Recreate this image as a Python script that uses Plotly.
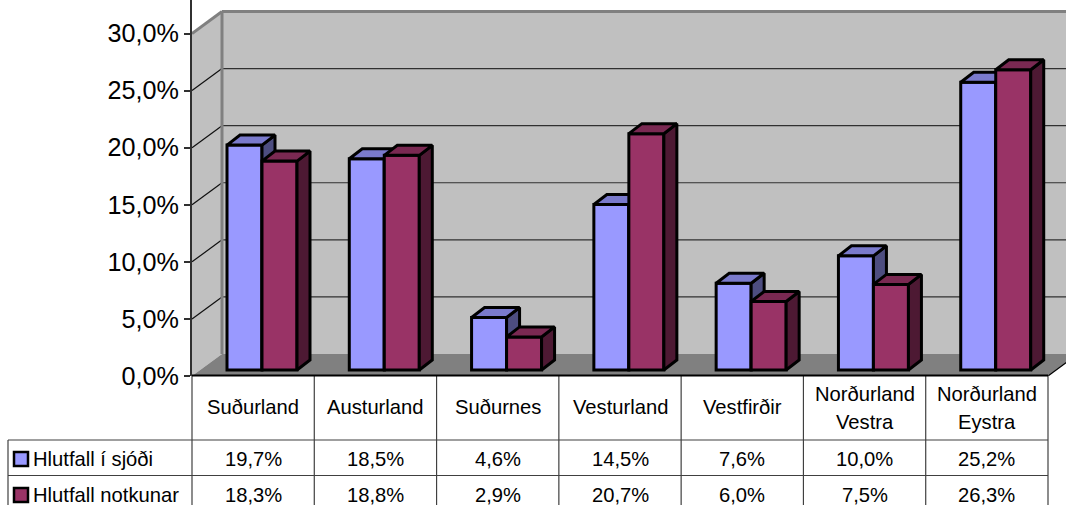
import plotly.graph_objects as go

categories = ["Suðurland", "Austurland", "Suðurnes", "Vesturland", "Vestfirðir",
              "Norðurland<br>Vestra", "Norðurland<br>Eystra"]
series_names = ["Hlutfall í sjóði", "Hlutfall notkunar"]
sjodi = [19.7, 18.5, 4.6, 14.5, 7.6, 10.0, 25.2]
notkun = [18.3, 18.8, 2.9, 20.7, 6.0, 7.5, 26.3]
tick_values = [0, 5, 10, 15, 20, 25, 30]
tick_labels = ["0,0%", "5,0%", "10,0%", "15,0%", "20,0%", "25,0%", "30,0%"]

W, H = 1066, 505
L, B = 192, 129
PW, PH = W - L, H - B
CAT_PX = 856 / 7
VAL_PX = 342.5 / 30
xr = [-0.5, -0.5 + PW / CAT_PX]
yr = [0, PH / VAL_PX]


def dx(px):
    return px / CAT_PX


def dy(px):
    return px / VAL_PX


def px_x(px):
    return (px - L) / PW


def px_y(py):
    return (PH - py) / PH


FLOOR_Y = dy(6)
BAR_W = dx(35)
OFF_A = dx(227 - 253.14)
OFF_B = OFF_A + BAR_W
DEPTH_X, DEPTH_Y = dx(13), dy(10)
WALL_X, WALL_Y = dx(30), dy(22)
x0 = -0.5
xpos = list(range(len(categories)))


def polys(values, off):
    tx, ty, sx, sy = [], [], [], []
    for i, v in zip(xpos, values):
        a = i + off
        b = a + BAR_W
        t = v + FLOOR_Y
        tx += [a, a + DEPTH_X, b + DEPTH_X, b, a, None]
        ty += [t, t + DEPTH_Y, t + DEPTH_Y, t, t, None]
        sx += [b, b + DEPTH_X, b + DEPTH_X, b, b, None]
        sy += [FLOOR_Y, FLOOR_Y + DEPTH_Y, t + DEPTH_Y, t, FLOOR_Y, None]
    return tx, ty, sx, sy


fig = go.Figure()


def add_series(name, values, off, front, top, side, xa, ya):
    fig.add_trace(go.Bar(x=xpos, y=values, base=FLOOR_Y, offset=off, width=BAR_W, name=name,
                         marker=dict(color=front, line=dict(color="black", width=3)),
                         xaxis=xa, yaxis=ya, showlegend=False))
    tx, ty, sx, sy = polys(values, off)
    for px_, py_, col in ((sx, sy, side), (tx, ty, top)):
        fig.add_trace(go.Scatter(x=px_, y=py_, mode="lines", fill="toself", fillcolor=col,
                                 line=dict(color="black", width=3), hoverinfo="skip",
                                 xaxis=xa, yaxis=ya, showlegend=False))


add_series(series_names[0], sjodi, OFF_A, "#9999FF", "#7A7ACC", "#4D4D80", "x", "y")
add_series(series_names[1], notkun, OFF_B, "#993366", "#7A2952", "#4D1933", "x2", "y2")

shapes = []


def path(pts):
    return "M " + " L ".join(f"{a},{b}" for a, b in pts) + " Z"


wall = "#C0C0C0"
gx = x0 + WALL_X
top = tick_values[-1]
# back wall, side wall, floor
shapes.append(dict(type="rect", x0=gx, x1=xr[1] + 1, y0=WALL_Y, y1=top + WALL_Y, layer="below",
                   fillcolor=wall, line=dict(width=0)))
shapes.append(dict(type="path", path=path([(x0, 0), (gx, WALL_Y), (gx, top + WALL_Y), (x0, top)]),
                   layer="below", fillcolor=wall, line=dict(width=0)))
shapes.append(dict(type="path", path=path([(x0, 0), (gx, WALL_Y), (x0 + 7 + WALL_X, WALL_Y), (x0 + 7, 0)]),
                   layer="below", fillcolor="#808080", line=dict(width=0)))
for t in tick_values[1:-1]:
    shapes.append(dict(type="line", x0=gx, x1=xr[1] + 1, y0=t + WALL_Y, y1=t + WALL_Y, layer="below",
                       line=dict(color="#303030", width=1.2)))
    shapes.append(dict(type="line", x0=x0, x1=gx, y0=t, y1=t + WALL_Y, layer="below",
                       line=dict(color="#101010", width=1.2)))
# wall borders
for a, b, c, d in ((gx, top + WALL_Y, xr[1] + 1, top + WALL_Y), (gx, WALL_Y, gx, top + WALL_Y),
                   (x0, top, gx, top + WALL_Y)):
    shapes.append(dict(type="line", x0=a, y0=b, x1=c, y1=d, layer="below",
                       line=dict(color="#808080", width=3)))
shapes.append(dict(type="line", x0=x0 + 7, y0=0, x1=x0 + 7 + WALL_X, y1=WALL_Y, layer="below",
                   line=dict(color="black", width=1.2)))

# data table
TCOL = "#404040"


def pline(a, b, c, d, col=TCOL, w=1.2):
    shapes.append(dict(type="line", xref="paper", yref="paper", x0=px_x(a), x1=px_x(c),
                       y0=px_y(b), y1=px_y(d), line=dict(color=col, width=w)))


for k in range(len(categories) + 1):
    pline(192 + CAT_PX * k, 375, 192 + CAT_PX * k, 505)
pline(8, 440, 8, 505)
pline(192, 375.5, 1048, 375.5, "black", 1.8)
pline(8, 440, 1048, 440)
pline(8, 475.5, 1048, 475.5)

annotations = []


def label(xv, py, text, xref="x", anchor="center"):
    annotations.append(dict(x=xv, y=px_y(py), xref=xref, yref="paper", text=text, showarrow=False,
                            xanchor=anchor, yanchor="middle",
                            font=dict(family="Liberation Sans", size=20.2, color="black")))


for i, c in enumerate(categories):
    parts = c.split("<br>")
    if len(parts) == 1:
        label(i, 407.5, parts[0])
    else:
        label(i, 393.5, parts[0])
        label(i, 421.5, parts[1])
    label(i, 459, f"{sjodi[i]:.1f}%".replace(".", ","))
    label(i, 495, f"{notkun[i]:.1f}%".replace(".", ","))

label(px_x(31), 459, series_names[0], xref="paper", anchor="left")
label(px_x(31), 495, series_names[1], xref="paper", anchor="left")
for (y0_, col) in ((452, "#9999FF"), (488, "#993366")):
    shapes.append(dict(type="rect", xref="paper", yref="paper", x0=px_x(14), x1=px_x(28),
                       y0=px_y(y0_), y1=px_y(y0_ + 14), fillcolor=col,
                       line=dict(color="black", width=2.5)))

hidden = dict(range=xr, visible=False, fixedrange=True)
fig.update_layout(
    width=W, height=H, margin=dict(l=L, r=0, t=0, b=B, pad=0),
    paper_bgcolor="white", plot_bgcolor="white", barmode="overlay", showlegend=False,
    xaxis=dict(range=xr, showgrid=False, zeroline=False, showticklabels=False, ticks=""),
    yaxis=dict(range=yr, tickmode="array", tickvals=tick_values, ticktext=tick_labels,
               ticks="outside", ticklen=6, tickwidth=1.5, tickcolor="#303030",
               showline=True, linecolor="#303030", linewidth=2, showgrid=False, zeroline=False,
               tickfont=dict(family="Liberation Sans", size=25.2, color="black")),
    xaxis2=dict(overlaying="x", **hidden),
    yaxis2=dict(overlaying="y", range=yr, visible=False, fixedrange=True),
    shapes=shapes, annotations=annotations,
)
fig.write_html("out.html", config={"displayModeBar": False},
               post_script="document.body.style.margin='0';document.body.style.overflow='hidden';")
